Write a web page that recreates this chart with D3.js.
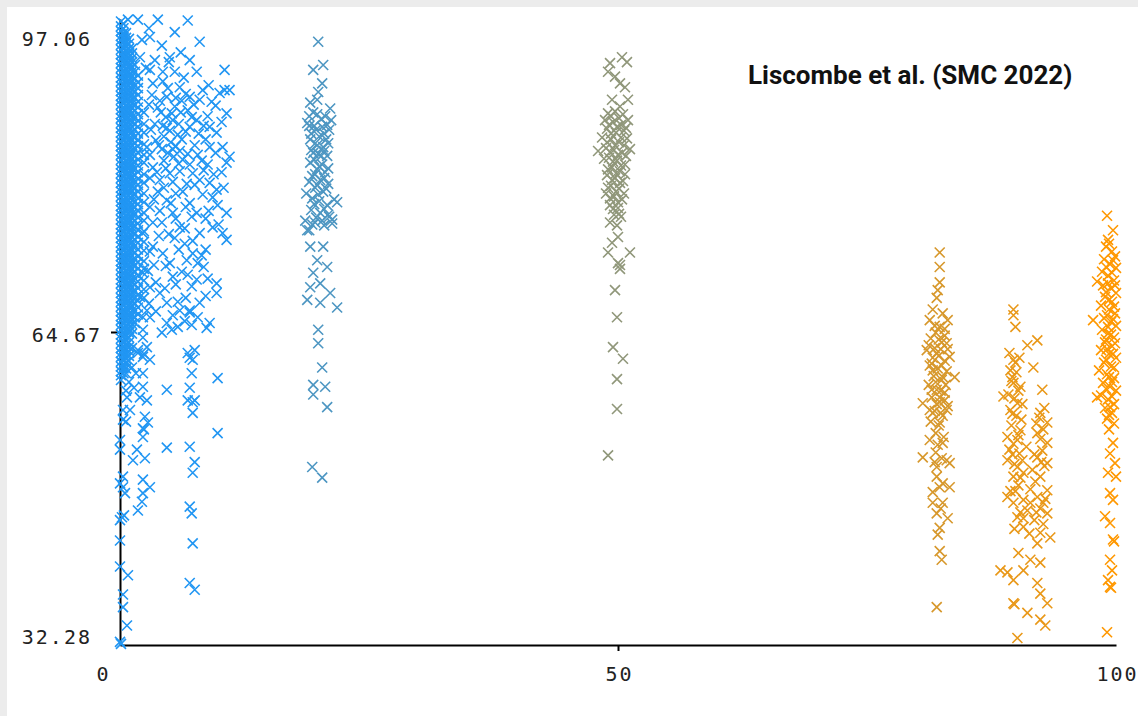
<!doctype html>
<html>
  <head>
    <script src="https://cdnjs.cloudflare.com/ajax/libs/d3/7.8.5/d3.min.js"></script>
    <style>
      body { margin: 0; background: #ececec; }
      text.tick-label { font-family: "DejaVu Sans Mono", monospace; font-size: 20px; letter-spacing: 2px; fill: #222; }
    </style>
  </head>
  <body>
    <svg></svg>
    <script>
      var width = 1138,
          height = 716;

      // axis ranges and tick labels
      var xDomain = [0, 100];
      var yDomain = [32.28, 97.06];
      var xTicks = [0, 50, 100];
      var yTicks = [32.28, 64.67, 97.06];
      var title = "Liscombe et al. (SMC 2022)";

      // group centres (used for colour)
      var groupKeys = [0, 20, 50, 82, 90, 100];

      // group 0: dense columns along x ~ 0-2.5
      var coreX = [0.1, 0.6, 1.2, 1.8, 2.4, 0.35, 0.9, 1.5];
      var coreA = [96.8,96.3,95.8,95.3,94.9,94.4,93.9,93.4,92.9,92.5,92.0,91.5,91.0,90.6,90.1,89.6,89.1,88.7,88.2,87.7,87.2,86.8,86.3,85.8,85.3,84.9,84.4,83.9,83.4,83.0,82.5,82.0,81.5,81.1,80.6,80.1,79.6,79.2,78.7,78.2,77.7,77.3,76.8,76.3,75.8,75.4,74.9,74.4,73.9,73.5,73.0,72.5,72.0,71.6,71.1,70.6,70.1,69.7,69.2,68.7,68.2,67.8,67.3,66.8,66.3,65.9,65.4,64.9,64.4,64.0,63.5,63.0,62.5,62.1,61.6,61.1,60.6,60.2,59.7];
      var coreB = [95.6,95.1,94.6,94.2,93.7,93.2,92.7,92.3,91.8,91.3,90.8,90.4,89.9,89.4,88.9,88.5,88.0,87.5,87.0,86.6,86.1,85.6,85.1,84.7,84.2,83.7,83.2,82.8,82.3,81.8,81.3,80.9,80.4,79.9,79.4,79.0,78.5,78.0,77.5,77.1,76.6,76.1,75.6,75.2,74.7,74.2,73.7,73.3,72.8,72.3,71.8,71.4,70.9,70.4,69.9,69.5,69.0,68.5,68.0,67.6,67.1,66.6,66.1,65.7,65.2,64.7,64.2,63.8,63.3,62.8,62.3,61.9,61.4,60.9,60.4];
      var coreC = [94.0,93.5,93.0,92.6,92.1,91.6,91.1,90.7,90.2,89.7,89.2,88.8,88.3,87.8,87.3,86.9,86.4,85.9,85.4,85.0,84.5,84.0,83.5,83.1,82.6,82.1,81.6,81.2,80.7,80.2,79.7,79.3,78.8,78.3,77.8,77.4,76.9,76.4,75.9,75.5,75.0,74.5,74.0,73.6,73.1,72.6,72.1,71.7,71.2,70.7,70.2,69.8,69.3,68.8,68.3,67.9,67.4,66.9,66.4,66.0,65.5,65.0,64.5];
      var coreD = [91.2,90.5,89.9,89.2,88.5,87.9,87.2,86.5,85.9,85.2,84.5,83.9,83.2,82.5,81.9,81.2,80.5,79.9,79.2,78.5,77.9,77.2,76.5,75.9,75.2,74.5,73.9,73.2,72.5,71.9,71.2,70.5,69.9,69.2,68.5,67.9,67.2,66.5];
      var coreE = [87.4,86.2,85.3,84.1,83.0,82.2,81.0,80.1,79.0,78.1,77.0,76.2,75.1,74.0,73.1,72.0,71.2,70.0,69.1,68.2];
      var coreF = [96.6,96.1,95.6,95.1,94.6,94.1,93.6,93.2,92.7,92.2,91.7,91.3,90.8,90.3,89.8,89.4,88.9,88.4,87.9,87.5,87.0,86.5,86.0,85.6,85.1,84.6,84.1,83.7,83.2,82.7,82.2,81.8,81.3,80.8,80.3,79.9,79.4,78.9,78.4,78.0,77.5,77.0,76.5,76.1,75.6,75.1,74.6,74.2,73.7,73.2,72.7,72.3,71.8,71.3,70.8,70.4,69.9,69.4,68.9,68.5,68.0,67.5,67.0,66.6,66.1,65.6,65.1,64.7,64.2,63.7,63.2,62.8,62.3,61.8,61.3,60.9,60.4];
      var coreG = [95.0,94.5,94.0,93.5,93.1,92.6,92.1,91.6,91.2,90.7,90.2,89.7,89.3,88.8,88.3,87.8,87.4,86.9,86.4,85.9,85.5,85.0,84.5,84.0,83.6,83.1,82.6,82.1,81.7,81.2,80.7,80.2,79.8,79.3,78.8,78.3,77.9,77.4,76.9,76.4,76.0,75.5,75.0,74.5,74.1,73.6,73.1,72.6,72.2,71.7,71.2,70.7,70.3,69.8,69.3,68.8,68.4,67.9,67.4,66.9,66.5,66.0,65.5,65.0,64.6,64.1,63.6,63.1,62.7,62.2,61.7];
      var coreH = [92.3,91.6,90.9,90.2,89.6,88.9,88.2,87.6,86.9,86.2,85.6,84.9,84.2,83.6,82.9,82.2,81.6,80.9,80.2,79.6,78.9,78.2,77.6,76.9,76.2,75.6,74.9,74.2,73.6,72.9,72.2,71.6,70.9,70.2,69.6,68.9,68.2,67.6,66.9,66.2,65.6];

      // group 0: scattered points x ~ 0-11
      var group0 = [
        [1.8,97.0],[0.8,97.0],[3.8,97.0],[6.8,96.9],[5.5,95.7],[8.0,94.7],[2.2,94.9],[2.0,93.1],[5.0,93.1],[7.0,92.8],
        [3.0,91.8],[4.3,91.6],[5.5,91.6],[7.7,91.6],[10.5,91.8],[10.5,89.7],[10.0,89.4],[11.0,89.7],[4.8,89.9],[6.0,90.0],
        [7.0,89.0],[8.3,89.7],[8.0,88.7],[10.7,87.3],[4.7,89.0],[5.2,87.3],
        [4.1,87.4],[4.6,86.9],[5.3,86.6],[5.9,86.2],[4.3,86.0],[5.0,85.5],[5.8,85.1],[6.2,84.6],[4.4,84.9],[5.1,84.3],
        [5.6,83.9],[4.2,83.6],[4.8,83.2],[6.0,83.4],[5.4,82.8],
        [7.0,85.9],[7.7,86.6],[9.0,85.9],[9.7,85.3],[9.0,83.8],[10.3,83.8],[11.0,82.8],[10.7,82.2],[2.7,83.8],[3.3,81.7],
        [4.0,80.4],[5.0,81.1],[6.3,82.5],[7.3,81.1],[8.0,80.4],[9.3,78.6],[9.7,79.4],[10.7,77.0],[10.3,74.9],[10.7,74.2],
        [4.7,78.3],[5.3,77.0],[6.0,75.5],[7.7,77.0],[8.0,74.9],[9.3,75.5],[3.0,77.6],[2.3,74.9],[3.3,73.5],[4.3,72.8],
        [5.0,71.8],[6.7,72.1],[7.3,72.8],[7.7,70.1],[9.7,69.7],[9.7,68.7],[2.3,70.8],[3.0,69.3],[4.0,68.7],[4.7,67.7],
        [6.0,66.9],[7.0,66.9],[8.0,67.7],[4.7,65.6],[9.0,65.6],[2.0,68.3],[2.3,66.2],
        [3.5,86.2],[6.8,87.6],[3.6,84.5],[7.5,84.0],[8.2,82.4],[6.7,80.0],[3.8,79.2],[5.6,79.0],[7.0,78.0],[8.6,76.4],
        [4.2,76.0],[6.5,73.8],[5.5,74.4],[3.9,74.6],[8.6,73.2],[6.2,70.9],[5.6,69.6],[8.4,71.4],[3.4,71.6],[6.6,68.2],
        [2.9,88.2],[3.3,90.4],[6.2,88.6],[8.8,87.0],[9.4,81.0],[4.9,92.6],[2.6,92.0],[3.0,95.2],
        [3.2,89.2],[4.0,88.6],[5.6,88.9],[6.6,89.3],[7.4,88.2],[9.2,88.5],[3.8,87.9],[6.1,87.4],[7.2,86.9],[8.4,86.0],
        [3.1,85.6],[4.7,85.8],[6.6,85.4],[7.9,85.2],[8.6,84.6],[3.9,84.0],[5.3,83.6],[6.8,83.1],[7.8,83.0],[9.6,83.2],
        [3.0,83.0],[4.4,82.4],[5.9,82.1],[7.0,82.0],[8.8,82.0],[3.7,81.2],[4.6,81.6],[6.0,81.3],[8.4,81.4],[10.2,81.2],
        [3.0,80.6],[5.3,80.2],[7.5,79.9],[9.0,80.1],[10.4,79.6],[4.4,79.6],[6.3,79.2],[8.3,78.9],[3.4,78.4],[5.1,78.0],
        [6.6,77.6],[9.8,77.8],[4.0,77.2],[7.2,76.6],[8.9,77.2],[5.6,76.4],[3.3,76.0],[6.5,75.4],[9.9,75.8],[4.9,74.8],
        [7.3,74.1],[3.0,73.0],[5.9,73.2],[8.2,72.6],[4.6,71.5],[7.8,71.8],[2.8,71.0],[5.3,70.4],[6.8,70.6],[8.8,70.2],
        [3.6,69.8],[4.5,69.2],[7.2,69.4],[2.9,67.6],[5.8,67.8],[8.6,68.4],[3.6,66.8],[5.3,66.4],[6.5,65.8],[7.8,66.2],
        [5.5,88.0],[4.3,90.6],[6.4,91.0],[8.9,90.2],[9.6,88.1],[10.2,86.4],[3.5,92.8],[6.1,93.6],[4.2,94.3],[2.9,96.1],
        [2.3,64.9],[4.2,64.6],[5.2,64.9],[5.8,65.2],[8.7,65.1],[1.8,62.5],[3.0,61.8],[2.3,62.1],[7.0,62.0],[7.2,60.4],
        [2.3,59.0],[2.0,57.9],[2.7,57.6],[0.7,57.9],[0.3,56.6],[1.0,56.6],[0.3,55.6],[0.6,55.4],[2.3,54.7],[2.4,54.6],
        [6.8,57.6],[7.5,57.6],[7.3,56.3],[9.8,54.2],[4.7,52.7],[7.0,52.8],[7.5,51.2],[0.0,53.5],[0.0,52.5],[1.7,52.5],
        [2.5,51.6],[1.3,51.4],[0.3,49.7],[0.0,49.0],[2.3,49.4],[3.0,48.6],[2.3,48.0],[2.2,47.1],[1.8,46.2],[0.3,48.6],
        [0.5,48.0],[0.2,45.5],[0.4,45.7],[0.0,45.2],[0.0,43.1],[7.3,42.8],[0.0,40.4],[0.8,39.5],[7.0,38.7],[7.5,38.0],
        [0.3,37.5],[0.3,36.2],[0.7,34.3],[0.0,32.6],[0.1,32.4],
        [7.0,66.7],[7.2,65.4],[6.8,62.5],[7.5,62.8],[7.3,61.8],[9.8,59.9],[4.7,58.7],[7.0,58.9],[7.3,57.4],[7.3,50.1],
        [7.0,46.6],[7.2,45.9],[2.7,66.9],[3.0,66.2],[2.3,64.1],[2.7,63.1],[2.3,60.4],[2.5,55.9],[2.8,55.3],[2.3,53.8],
        [1.2,63.0],[1.8,62.8],[2.4,62.4],[1.2,61.0],[1.6,60.4],[0.9,59.5],[1.4,58.9],[0.6,58.6]
      ];

      // group 1: x ~ 20
      var group1 = [
        [19.9,94.7],[19.4,91.8],[20.4,92.3],[20.3,90.4],[19.9,89.5],[19.1,88.4],[21.1,87.8],[19.8,88.7],
        [19.0,87.0],[19.8,87.2],[20.6,87.0],[21.2,86.6],[18.8,86.3],[19.5,86.0],[20.3,85.9],[21.0,85.6],[19.2,85.2],[20.0,84.9],
        [20.7,84.6],[19.6,84.2],[20.4,83.8],[19.2,83.5],[19.9,83.1],[20.8,82.9],[19.5,82.5],[20.3,82.0],[19.8,81.5],[20.6,81.2],
        [19.3,80.8],[20.1,80.4],[20.9,80.0],[19.6,79.6],[20.4,79.2],[18.7,79.0],[19.3,78.5],[20.0,78.2],[20.8,77.8],[21.5,78.4],
        [19.2,77.3],[20.1,77.0],[21.0,76.6],[18.6,76.2],[19.6,76.0],[20.5,75.7],[21.3,75.9],[19.0,75.2],
        [19.4,87.4],[20.2,86.7],[19.0,86.0],[20.8,86.1],[19.7,85.6],[20.5,85.2],[19.1,84.6],[19.8,84.0],[20.9,84.2],[19.4,83.2],
        [20.2,82.9],[20.5,83.4],[19.1,82.2],[20.0,81.8],[20.9,81.6],[19.6,81.0],[20.5,80.6],[19.0,80.2],[19.8,79.9],[20.7,79.5],
        [19.9,78.9],[19.5,77.9],[20.5,77.4],[19.7,76.5],[20.3,76.2],[19.3,75.8],[20.9,76.8],
        [21.8,78.1],[21.3,76.3],[18.8,75.2],[19.1,73.5],[20.4,73.5],[19.8,72.1],[20.8,71.4],[19.4,70.8],[20.1,69.7],[19.1,69.3],
        [21.1,68.7],[18.8,68.0],[21.8,67.2],[20.1,67.7],[19.9,64.9],[19.9,63.5],[20.3,61.0],[19.4,59.2],[20.6,59.0],[19.4,58.2],
        [20.8,56.9],[19.3,50.7],[20.3,49.6]
      ];

      // group 2: x ~ 50
      var group2 = [
        [50.4,93.1],[49.2,92.5],[50.9,92.6],[49.0,91.6],[49.7,91.1],[50.2,90.4],[50.7,90.0],[49.4,88.7],[51.0,88.7],[50.2,88.0],
        [49.0,87.3],[49.7,87.5],[50.5,87.2],[48.7,86.6],[49.5,86.4],[50.3,86.1],[51.0,86.6],[48.9,85.7],[49.8,85.3],[50.6,85.5],
        [48.4,84.8],[49.3,84.6],[50.1,84.3],[50.9,84.7],[48.8,83.7],[49.6,83.5],[50.4,83.2],[51.2,83.6],[48.0,83.4],[49.1,82.7],
        [49.9,82.4],[50.7,82.0],[49.4,81.7],[50.2,81.3],[48.9,80.9],[49.7,80.6],[50.5,80.3],[49.3,79.8],[50.1,79.5],[48.8,79.0],
        [49.6,78.7],[50.4,78.4],[49.2,77.8],[50.0,77.5],[49.6,76.8],[50.3,76.6],[49.2,76.0],[49.9,75.7],
        [49.3,87.0],[50.1,86.8],[49.1,86.1],[49.9,85.9],[50.8,85.8],[49.3,85.2],[50.3,84.8],[48.9,84.3],[49.7,84.0],[50.6,84.0],
        [49.2,83.3],[50.0,83.0],[50.8,82.9],[48.6,82.6],[49.5,82.3],[50.3,81.9],[49.0,81.5],[49.8,81.1],[50.7,81.0],[49.4,80.4],
        [50.2,80.1],[49.0,79.6],[49.8,79.2],[50.6,79.0],[49.2,78.5],[50.0,78.1],[49.5,77.4],[50.1,76.9],
        [50.0,74.5],[49.4,73.9],[51.2,72.9],[49.0,72.9],[50.0,71.8],[50.2,71.2],[50.2,71.6],[49.7,69.0],[49.9,66.2],[49.5,63.1],
        [50.5,61.9],[49.9,59.8],[49.9,56.7],[49.0,51.9]
      ];

      // group 3: x ~ 82
      var group3 = [
        [82.3,72.9],[82.3,71.4],[82.3,69.8],[82.1,69.0],[82.0,68.2],[81.6,67.0],[82.6,66.6],[81.3,65.9],[83.1,65.9],[82.3,65.2],
        [81.0,62.8],[83.0,63.5],[82.0,62.5],[83.3,62.1],
        [81.4,64.0],[82.2,63.9],[82.8,64.3],[81.2,63.3],[82.4,62.9],[81.6,62.0],[82.8,61.7],[81.3,61.2],[82.1,60.9],[83.0,60.6],
        [81.7,60.1],[82.5,59.7],[81.2,59.2],[82.0,58.7],[82.8,58.4],[81.5,57.9],[82.3,57.4],[83.1,57.0],[81.8,56.5],[82.6,56.0],
        [81.4,55.4],[82.2,55.0],[81.9,54.2],[82.7,53.8],
        [81.8,65.3],[82.8,65.0],[81.9,64.6],[82.5,63.6],[81.8,63.0],[83.1,62.9],[82.2,62.2],[81.5,61.4],[82.5,61.2],[81.9,59.5],
        [82.9,59.2],[81.5,58.7],[82.4,58.6],[82.0,57.2],[82.8,57.6],[81.3,56.6],[82.4,56.3],[82.1,53.0],[81.9,52.2],[82.5,51.6],
        [81.8,51.2],[82.3,48.6],[81.6,48.1],[82.4,46.4],
        [81.6,60.7],[82.6,60.0],[83.8,60.0],[80.6,57.3],[82.3,57.9],[83.0,56.6],[81.6,56.3],[82.3,55.3],[81.3,53.5],[82.6,53.2],
        [80.6,51.7],[83.0,51.4],[82.0,50.7],[83.3,51.1],[82.0,49.7],[82.6,49.0],[83.3,48.6],[81.6,47.0],[82.6,47.0],[82.0,45.9],
        [83.1,45.4],[82.3,44.4],[82.1,43.7],[82.3,42.0],[82.5,41.1],[82.0,36.2]
      ];

      // group 4: x ~ 90
      var group4 = [
        [89.7,67.0],[89.7,66.4],[89.9,65.2],[91.1,63.3],[92.1,63.8],[89.9,61.5],[89.4,60.7],[91.7,61.0],[92.6,58.7],[88.7,58.0],
        [89.7,59.4],[90.1,57.3],[89.4,56.6],[92.4,56.3],[93.1,55.3],[92.1,54.2],[89.1,53.8],[90.1,53.5],[90.4,54.5],[93.1,53.2],
        [92.1,51.7],[93.1,51.1],[89.1,51.4],[90.1,50.7],[89.7,49.7],[90.7,50.1],[92.4,49.7],[93.1,48.3],[92.1,47.6],[92.7,47.0],
        [93.1,45.9],[89.1,47.6],[89.7,47.0],[90.7,47.3],[91.1,46.2],[90.1,45.5],[90.7,44.5],[92.4,43.9],[93.4,43.4],[92.1,42.8],
        [90.2,41.8],[91.4,41.1],[92.4,40.8],[90.7,40.0],[89.1,39.8],[88.4,40.0],[89.7,39.0],[92.1,38.7],[92.4,37.6],[93.1,36.6],
        [89.7,36.6],[89.8,36.5],[91.1,35.6],[92.4,34.9],[92.9,34.3],[90.1,33.0],
        [89.3,62.5],[90.3,62.0],[89.6,60.0],[90.4,59.0],[89.2,58.2],[90.0,56.0],[89.5,55.0],[90.5,55.6],[92.0,55.2],[92.8,56.8],
        [89.3,52.5],[90.3,52.1],[91.0,52.8],[92.6,52.4],[89.8,51.0],[91.6,50.4],[92.8,50.8],[90.2,48.8],[91.4,48.4],[89.4,48.2],
        [92.4,46.4],[90.4,46.0],[91.8,45.2],[89.8,44.3],[92.7,44.8],
        [89.7,61.8],[90.0,60.5],[89.5,59.6],[90.2,58.6],[89.8,57.8],[90.6,57.2],[89.6,56.2],[92.3,55.8],[92.7,54.6],[90.2,54.0],
        [89.7,53.1],[92.4,53.6],[91.8,52.0],[89.6,52.0],[90.6,51.4],[92.5,51.2],[90.4,49.6],[91.9,49.2],[89.9,48.2],[92.9,47.4],
        [91.4,47.0],[92.0,46.0],[90.7,45.4],[91.3,43.8]
      ];

      // group 5: x ~ 100
      var group5 = [
        [99.1,76.7],[99.7,75.2],[99.2,74.2],[98.1,69.9],[97.7,65.9],[98.1,57.9],
        [99.0,73.5],[99.6,73.0],[99.9,72.5],[98.8,72.2],[99.4,71.7],[100.0,71.3],[98.6,70.9],[99.2,70.5],[99.8,70.0],[98.7,69.5],
        [99.5,69.2],[100.0,68.7],[98.9,68.3],[99.6,67.8],[98.5,67.4],[99.3,67.0],[99.9,66.6],[98.8,66.1],[99.5,65.7],[100.0,65.3],
        [98.6,64.9],[99.2,64.5],[99.8,64.1],[98.9,63.6],[99.6,63.2],[98.5,62.8],[99.3,62.4],[100.0,62.0],[98.8,61.5],[99.5,61.1],
        [98.3,60.7],[99.1,60.3],[99.8,59.9],[98.7,59.4],[99.4,59.0],[100.0,58.6],[98.5,58.1],[99.2,57.7],[99.8,57.2],[98.9,56.8],
        [99.6,56.3],[99.1,55.7],[99.8,55.2],[99.3,54.6],
        [99.3,73.8],[99.7,72.1],[99.0,71.4],[99.6,70.8],[99.2,69.7],[99.9,69.5],[99.0,68.8],[99.3,68.0],[99.8,67.3],[99.1,66.4],
        [99.7,66.0],[99.2,65.2],[99.5,64.4],[99.0,63.9],[99.9,63.5],[99.1,62.9],[99.7,62.4],[99.0,61.8],[99.8,61.0],[99.3,60.0],
        [99.6,59.5],[99.0,58.8],[99.6,58.0],[99.4,56.9],[99.3,56.1],
        [99.7,53.2],[99.4,52.1],[99.9,51.1],[99.2,50.1],[100.0,49.7],[99.4,48.0],[99.7,47.3],[98.9,45.6],[99.4,44.9],[99.7,43.2],
        [99.8,43.0],[99.4,41.1],[99.6,40.0],[99.2,39.0],[99.4,38.3],[99.5,38.2],[99.1,33.6]
      ];

      var svg = d3.select("svg").attr("width", width).attr("height", height);

      // panel
      svg.append("rect").attr("width", width).attr("height", height).attr("fill", "#ececec");
      svg.append("rect").attr("x", 7).attr("y", 7).attr("width", width - 7).attr("height", height - 7).attr("fill", "#fff");

      var x = d3.scaleLinear().domain(xDomain).range([120, 1116]);
      var y = d3.scaleLinear().domain(yDomain).range([645, 19]);
      var color = d3.scaleLinear().domain(xDomain).range(["#2196f3", "#ff9800"]);

      // axes
      var gx = svg.append("g").attr("transform", "translate(0,645)")
          .call(d3.axisBottom(x).tickValues(xTicks).tickSize(6).tickSizeOuter(0).tickFormat(d3.format("d")));
      var gy = svg.append("g").attr("transform", "translate(120,0)")
          .call(d3.axisLeft(y).tickValues(yTicks).tickSize(9).tickSizeOuter(0).tickFormat(d3.format(".2f")));

      [gx, gy].forEach(function(g) {
        g.select(".domain").attr("stroke", "#000").attr("stroke-width", 2);
        g.selectAll(".tick line").attr("stroke", "#000").attr("stroke-width", 2)
          .attr("opacity", function(d, i) { return i == 1 ? 1 : 0; });
        g.selectAll(".tick text").attr("class", "tick-label").attr("font-size", null).attr("font-family", null);
      });
      gx.selectAll(".tick text")
          .attr("y", 36).attr("dy", 0)
          .attr("x", function(d, i) { return i == 0 ? -17 : 1; });
      gy.selectAll(".tick text")
          .attr("dy", 0)
          .attr("y", function(d, i) { return [-2, 9, 26][i]; })
          .attr("x", function(d, i) { return i == 1 ? -18 : -28; });

      // points
      var points = [];
      [coreA, coreB, coreC, coreD, coreE, coreF, coreG, coreH].forEach(function(col, i) {
        col.forEach(function(v) { points.push({x: coreX[i], y: v, g: 0}); });
      });
      [group0, group1, group2, group3, group4, group5].forEach(function(arr, i) {
        arr.forEach(function(p) { points.push({x: p[0], y: p[1], g: i}); });
      });

      var s = 5;
      svg.append("g").selectAll("path").data(points)
        .enter()
        .append("path")
          .attr("d", function(d) {
            var px = x(d.x), py = y(d.y);
            return "M" + (px - s) + "," + (py - s) + "L" + (px + s) + "," + (py + s) +
                   "M" + (px - s) + "," + (py + s) + "L" + (px + s) + "," + (py - s);
          })
          .attr("fill", "none")
          .attr("stroke", function(d) { return color(groupKeys[d.g]); })
          .attr("stroke-width", 1.6);

      // label
      svg.append("text")
          .attr("x", 748).attr("y", 84)
          .style("font-family", "Roboto")
          .style("font-weight", 700)
          .style("font-size", "26px")
          .style("fill", "#111")
          .text(title);
    </script>
  </body>
</html>
